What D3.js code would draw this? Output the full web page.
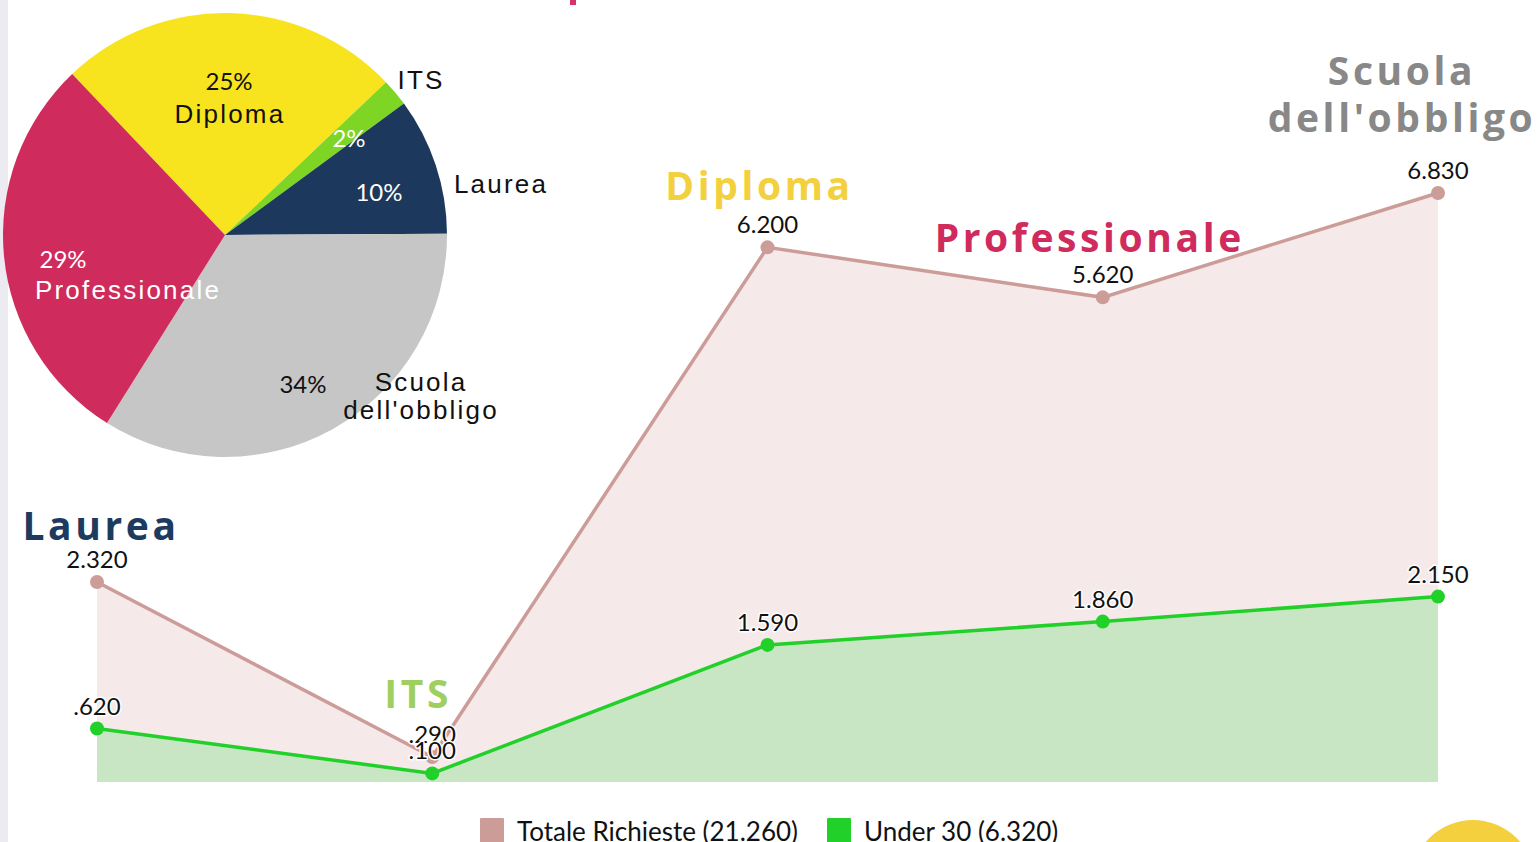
<!DOCTYPE html>
<html>
<head>
<meta charset="utf-8">
<script src="https://cdn.jsdelivr.net/npm/d3@7"></script>
<style>
  html, body { margin: 0; padding: 0; background: #fff; overflow: hidden; }
  svg { display: block; }
</style>
</head>
<body>
<svg id="svg" width="1539" height="842"></svg>
<script>
// data
var categories = ["Laurea", "ITS", "Diploma", "Professionale", "Scuola dell'obbligo"];
var totale = [2320, 290, 6200, 5620, 6830];
var under30 = [620, 100, 1590, 1860, 2150];
var seriesNames = ["Totale Richieste (21.260)", "Under 30 (6.320)"];

var pieCats = ["Diploma", "ITS", "Laurea", "Scuola dell'obbligo", "Professionale"];
var piePct = [25, 2, 10, 34, 29];

var catColors = {
  "Laurea": "#1d3a5f",
  "ITS": "#9fcf5f",
  "Diploma": "#f3d03e",
  "Professionale": "#d02b5d",
  "Scuola dell'obbligo": "#888888"
};
var pieColors = {
  "Diploma": "#f7e41e",
  "ITS": "#7ed523",
  "Laurea": "#1c385c",
  "Scuola dell'obbligo": "#c6c6c6",
  "Professionale": "#d02b5d"
};

var svg = d3.select("#svg");

// left strip + bits of page chrome
svg.append("rect").attr("x", 0).attr("y", 0).attr("width", 8).attr("height", 842)
  .attr("fill", "#ebebf1");
svg.append("rect").attr("x", 570).attr("y", 0).attr("width", 6).attr("height", 5)
  .attr("fill", "#d6336a");
svg.append("circle").attr("cx", 1473).attr("cy", 882).attr("r", 62)
  .attr("fill", "#f4d03f");

// ---------- line / area chart ----------
var x = d3.scalePoint().domain(categories).range([97, 1438]);
var y = d3.scaleLinear().domain([0, 6830]).range([782, 193]);

var fmt = function(v) {
  var s = (v / 1000).toFixed(3);
  return s.replace(/^0/, "");
};

var tot = categories.map((c, i) => ({c: c, v: totale[i]}));
var und = categories.map((c, i) => ({c: c, v: under30[i]}));

var area = d3.area().x(d => x(d.c)).y0(y(0)).y1(d => y(d.v));
var line = d3.line().x(d => x(d.c)).y(d => y(d.v));

var g = svg.append("g");
g.append("path").attr("d", area(tot)).attr("fill", "#f5e9e9");
g.append("path").attr("d", area(und)).attr("fill", "#c8e6c3");
g.append("path").attr("d", line(tot)).attr("fill", "none")
  .attr("stroke", "#cc9c99").attr("stroke-width", 3.5);
g.append("path").attr("d", line(und)).attr("fill", "none")
  .attr("stroke", "#22d02a").attr("stroke-width", 3.5);

g.selectAll(".pt-t").data(tot).enter().append("circle")
  .attr("cx", d => x(d.c)).attr("cy", d => y(d.v)).attr("r", 7)
  .attr("fill", "#cc9c99");
g.selectAll(".pt-u").data(und).enter().append("circle")
  .attr("cx", d => x(d.c)).attr("cy", d => y(d.v)).attr("r", 7)
  .attr("fill", "#22d02a");

function valLabels(data, cls) {
  g.selectAll("." + cls).data(data).enter().append("text")
    .attr("x", d => x(d.c)).attr("y", d => y(d.v) - 14)
    .attr("text-anchor", "middle")
    .attr("font-family", "Lato, sans-serif").attr("font-size", 24)
    .attr("fill", "#111")
    .attr("stroke", "#fff").attr("stroke-width", 3).attr("paint-order", "stroke")
    .attr("stroke-linejoin", "round")
    .text(d => fmt(d.v));
}
valLabels(tot, "vt");
valLabels(und, "vu");

// category labels
var catPos = {
  "Laurea": {dx: 4, y: 540},
  "ITS": {dx: -14, y: 708},
  "Diploma": {dx: -8, y: 200},
  "Professionale": {dx: -13, y: 252},
  "Scuola dell'obbligo": {dx: -36, y: 85}
};
categories.forEach(function(c) {
  var p = catPos[c];
  var t = g.append("text")
    .attr("x", x(c) + p.dx).attr("y", p.y)
    .attr("text-anchor", "middle")
    .attr("font-family", "'Open Sans', sans-serif").attr("font-weight", 700)
    .attr("font-size", 39).attr("letter-spacing", 3.6)
    .attr("fill", catColors[c]);
  var parts = c === "Scuola dell'obbligo" ? ["Scuola", "dell'obbligo"] : [c];
  parts.forEach(function(s, i) {
    t.append("tspan").attr("x", x(c) + p.dx).attr("dy", i ? 47 : 0).text(s);
  });
});

// legend
var leg = svg.append("g");
var legX = [480, 827];
var legC = ["#cc9c99", "#22d02a"];
seriesNames.forEach(function(n, i) {
  leg.append("rect").attr("x", legX[i]).attr("y", 818).attr("width", 24).attr("height", 26)
    .attr("fill", legC[i]).attr("rx", 1);
  leg.append("text").attr("x", legX[i] + 37).attr("y", 841)
    .attr("font-family", "Lato, sans-serif").attr("font-size", 26)
    .attr("fill", "#111").text(n);
});

// ---------- pie ----------
var cx = 225, cy = 235, R = 222;
var pie = d3.pie().sort(null).value(d => d.v)
  .startAngle(-43.5 * Math.PI / 180)
  .endAngle((360 - 43.5) * Math.PI / 180);
var pieData = pie(pieCats.map((c, i) => ({c: c, v: piePct[i]})));
var arc = d3.arc().innerRadius(0).outerRadius(R);

var pg = svg.append("g").attr("transform", "translate(" + cx + "," + cy + ")");
pg.selectAll("path").data(pieData).enter().append("path")
  .attr("d", arc).attr("fill", d => pieColors[d.data.c]);

// label spots (pct, name) relative to centre
var pieLab = {
  "Diploma": {pct: [4, -146], name: [5, -113], pc: "#111", nc: "#111"},
  "ITS": {pct: [124, -89], name: [196, -147], pc: "#fff", nc: "#111"},
  "Laurea": {pct: [154, -35], name: [276, -43], pc: "#fff", nc: "#111"},
  "Scuola dell'obbligo": {pct: [78, 157], name: [196, 155], pc: "#111", nc: "#111"},
  "Professionale": {pct: [-162, 32], name: [-97, 63], pc: "#fff", nc: "#fff"}
};
pieData.forEach(function(d) {
  var L = pieLab[d.data.c];
  pg.append("text").attr("x", L.pct[0]).attr("y", L.pct[1] + 1)
    .attr("text-anchor", "middle")
    .attr("font-family", "Lato, sans-serif").attr("font-size", 24)
    .attr("fill", L.pc).text(d.data.v + "%");
  var parts = d.data.c === "Scuola dell'obbligo" ? ["Scuola", "dell'obbligo"] : [d.data.c];
  var t = pg.append("text").attr("x", L.name[0]).attr("y", L.name[1] + 1)
    .attr("text-anchor", "middle")
    .attr("font-family", "'Liberation Sans', Arial, sans-serif").attr("font-size", 26)
    .attr("letter-spacing", 2.2)
    .attr("fill", L.nc);
  parts.forEach(function(s, i) {
    t.append("tspan").attr("x", L.name[0]).attr("dy", i ? 28 : 0).text(s);
  });
});
</script>
</body>
</html>
